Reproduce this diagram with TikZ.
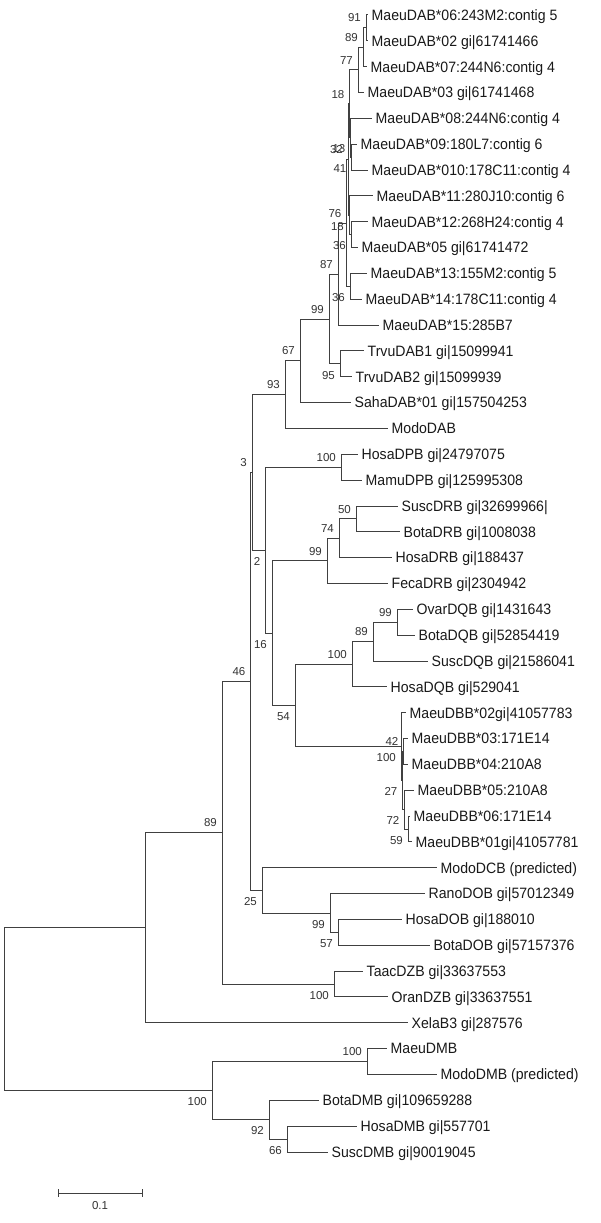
\documentclass[tikz,border=0pt]{standalone}
\usepackage{fontspec}
\setmainfont{Liberation Sans}
\newfontfamily\leaffont{Liberation Sans}[FakeStretch=0.94]
\tikzset{
  br/.style={draw=black!75, line width=1pt},
  leaf/.style={anchor=west, inner xsep=3.5pt, inner ysep=0pt, text height=10.7pt, text depth=0pt,
    font=\leaffont\fontsize{15}{15}\selectfont, text=black!90},
  lbl/.style={anchor=east, inner sep=0pt, text height=8.2pt, text depth=0pt,
    font=\fontsize{11.5}{11.5}\selectfont, text=black!80},
}
\newcommand\bsabove[3]{\node[lbl] (#1) at ([shift={(-5,-10)}]#2) {#3};}
\newcommand\bsbelow[3]{\node[lbl] (#1) at ([shift={(-5,11)}]#2) {#3};}
\begin{document}
\begin{tikzpicture}[x=1pt,y=-1pt]
\useasboundingbox[fill=white] (0,0) rectangle (600,1223);
% leaves
\node[leaf] (l1) at (368,15.0) {MaeuDAB*06:243M2:contig 5};
\node[leaf] (l2) at (368,40.8) {MaeuDAB*02 gi|61741466};
\node[leaf] (l3) at (367,66.7) {MaeuDAB*07:244N6:contig 4};
\node[leaf] (l4) at (364,92.5) {MaeuDAB*03 gi|61741468};
\node[leaf] (l5) at (372,118.4) {MaeuDAB*08:244N6:contig 4};
\node[leaf] (l6) at (357,144.2) {MaeuDAB*09:180L7:contig 6};
\node[leaf] (l7) at (368,170.0) {MaeuDAB*010:178C11:contig 4};
\node[leaf] (l8) at (373,195.9) {MaeuDAB*11:280J10:contig 6};
\node[leaf] (l9) at (368,221.7) {MaeuDAB*12:268H24:contig 4};
\node[leaf] (l10) at (358,247.6) {MaeuDAB*05 gi|61741472};
\node[leaf] (l11) at (367,273.4) {MaeuDAB*13:155M2:contig 5};
\node[leaf] (l12) at (362,299.2) {MaeuDAB*14:178C11:contig 4};
\node[leaf] (l13) at (379,325.1) {MaeuDAB*15:285B7};
\node[leaf] (l14) at (364,350.9) {TrvuDAB1 gi|15099941};
\node[leaf] (l15) at (352,376.8) {TrvuDAB2 gi|15099939};
\node[leaf] (l16) at (351,402.6) {SahaDAB*01 gi|157504253};
\node[leaf] (l17) at (388,428.4) {ModoDAB};
\node[leaf] (l18) at (358,454.3) {HosaDPB gi|24797075};
\node[leaf] (l19) at (362,480.1) {MamuDPB gi|125995308};
\node[leaf] (l20) at (398,506.0) {SuscDRB gi|32699966|};
\node[leaf] (l21) at (400,531.8) {BotaDRB gi|1008038};
\node[leaf] (l22) at (392,557.6) {HosaDRB gi|188437};
\node[leaf] (l23) at (388,583.5) {FecaDRB gi|2304942};
\node[leaf] (l24) at (413,609.3) {OvarDQB gi|1431643};
\node[leaf] (l25) at (415,635.2) {BotaDQB gi|52854419};
\node[leaf] (l26) at (428,661.0) {SuscDQB gi|21586041};
\node[leaf] (l27) at (387,686.8) {HosaDQB gi|529041};
\node[leaf] (l28) at (406,712.7) {MaeuDBB*02gi|41057783};
\node[leaf] (l29) at (408,738.5) {MaeuDBB*03:171E14};
\node[leaf] (l30) at (408,764.4) {MaeuDBB*04:210A8};
\node[leaf] (l31) at (414,790.2) {MaeuDBB*05:210A8};
\node[leaf] (l32) at (410,816.0) {MaeuDBB*06:171E14};
\node[leaf] (l33) at (412,841.9) {MaeuDBB*01gi|41057781};
\node[leaf] (l34) at (437,867.7) {ModoDCB (predicted)};
\node[leaf] (l35) at (425,893.6) {RanoDOB gi|57012349};
\node[leaf] (l36) at (402,919.4) {HosaDOB gi|188010};
\node[leaf] (l37) at (430,945.2) {BotaDOB gi|57157376};
\node[leaf] (l38) at (363,971.1) {TaacDZB gi|33637553};
\node[leaf] (l39) at (388,996.9) {OranDZB gi|33637551};
\node[leaf] (l40) at (408,1022.8) {XelaB3 gi|287576};
\node[leaf] (l41) at (387,1048.6) {MaeuDMB};
\node[leaf] (l42) at (437,1074.4) {ModoDMB (predicted)};
\node[leaf] (l43) at (319,1100.3) {BotaDMB gi|109659288};
\node[leaf] (l44) at (357,1126.1) {HosaDMB gi|557701};
\node[leaf] (l45) at (328,1152.0) {SuscDMB gi|90019045};
% internal nodes
\coordinate (n91) at (366,27.9);
\coordinate (n89a) at (363,47.3);
\coordinate (n77) at (358,69.9);
\coordinate (n41) at (351.5,157.1);
\coordinate (n13) at (350.5,137.8);
\coordinate (n18a) at (349.5,103.9);
\coordinate (n36a) at (351,234.7);
\coordinate (n18b) at (349,215.3);
\coordinate (n32) at (348,159.6);
\coordinate (n36b) at (350,286.3);
\coordinate (n76) at (346.5,223);
\coordinate (n87) at (338,274);
\coordinate (n95) at (340,363.9);
\coordinate (n99a) at (329,319);
\coordinate (n67) at (300,360.8);
\coordinate (n93) at (285,394.6);
\coordinate (n100a) at (341,467.2);
\coordinate (n50) at (356,518.9);
\coordinate (n74) at (339,538.3);
\coordinate (n99b) at (327,560.9);
\coordinate (n99c) at (397,622.3);
\coordinate (n89b) at (373,641.6);
\coordinate (n100b) at (352,664.2);
\coordinate (n59) at (408,829);
\coordinate (n72) at (404.5,809.5);
\coordinate (n42) at (403.5,751.5);
\coordinate (n27) at (402.5,780.5);
\coordinate (n100c) at (401,746.6);
\coordinate (n54) at (295,705.4);
\coordinate (n16) at (272,633.2);
\coordinate (n2) at (265.5,550.2);
\coordinate (n3) at (252,472.4);
\coordinate (n57) at (338,932.3);
\coordinate (n99d) at (330,913);
\coordinate (n25) at (262,890.3);
\coordinate (n46) at (250.5,681.4);
\coordinate (n100e) at (334,984);
\coordinate (n89c) at (222,832.7);
\coordinate (nX) at (145,927.8);
\coordinate (n100f) at (367,1061.5);
\coordinate (n66) at (287,1139);
\coordinate (n92) at (269,1119.7);
\coordinate (n100g) at (212,1090.6);
\coordinate (root) at (4.5,1009.2);
% branches
\draw[br] (n91) |- (l1.west);  \draw[br] (n91) |- (l2.west);
\draw[br] (n89a) |- (n91);     \draw[br] (n89a) |- (l3.west);
\draw[br] (n77) |- (n89a);     \draw[br] (n77) |- (l4.west);
\draw[br] (n41) |- (l6.west);  \draw[br] (n41) |- (l7.west);
\draw[br] (n13) |- (l5.west);  \draw[br] (n13) |- (n41);
\draw[br] (n18a) |- (n77);     \draw[br] (n18a) |- (n13);
\draw[br] (n36a) |- (l9.west); \draw[br] (n36a) |- (l10.west);
\draw[br] (n18b) |- (l8.west); \draw[br] (n18b) |- (n36a);
\draw[br] (n32) |- (n18a);     \draw[br] (n32) |- (n18b);
\draw[br] (n36b) |- (l11.west); \draw[br] (n36b) |- (l12.west);
\draw[br] (n76) |- (n32);      \draw[br] (n76) |- (n36b);
\draw[br] (n87) |- (n76);      \draw[br] (n87) |- (l13.west);
\draw[br] (n95) |- (l14.west); \draw[br] (n95) |- (l15.west);
\draw[br] (n99a) |- (n87);     \draw[br] (n99a) |- (n95);
\draw[br] (n67) |- (n99a);     \draw[br] (n67) |- (l16.west);
\draw[br] (n93) |- (n67);      \draw[br] (n93) |- (l17.west);
\draw[br] (n100a) |- (l18.west); \draw[br] (n100a) |- (l19.west);
\draw[br] (n50) |- (l20.west); \draw[br] (n50) |- (l21.west);
\draw[br] (n74) |- (n50);      \draw[br] (n74) |- (l22.west);
\draw[br] (n99b) |- (n74);     \draw[br] (n99b) |- (l23.west);
\draw[br] (n99c) |- (l24.west); \draw[br] (n99c) |- (l25.west);
\draw[br] (n89b) |- (n99c);    \draw[br] (n89b) |- (l26.west);
\draw[br] (n100b) |- (n89b);   \draw[br] (n100b) |- (l27.west);
\draw[br] (n59) |- (l32.west); \draw[br] (n59) |- (l33.west);
\draw[br] (n72) |- (l31.west); \draw[br] (n72) |- (n59);
\draw[br] (n42) |- (l29.west); \draw[br] (n42) |- (l30.west);
\draw[br] (n27) |- (n42);      \draw[br] (n27) |- (n72);
\draw[br] (n100c) |- (l28.west); \draw[br] (n100c) |- (n27);
\draw[br] (n54) |- (n100b);    \draw[br] (n54) |- (n100c);
\draw[br] (n16) |- (n99b);     \draw[br] (n16) |- (n54);
\draw[br] (n2) |- (n100a);     \draw[br] (n2) |- (n16);
\draw[br] (n3) |- (n93);       \draw[br] (n3) |- (n2);
\draw[br] (n57) |- (l36.west); \draw[br] (n57) |- (l37.west);
\draw[br] (n99d) |- (l35.west); \draw[br] (n99d) |- (n57);
\draw[br] (n25) |- (l34.west); \draw[br] (n25) |- (n99d);
\draw[br] (n46) |- (n3);       \draw[br] (n46) |- (n25);
\draw[br] (n100e) |- (l38.west); \draw[br] (n100e) |- (l39.west);
\draw[br] (n89c) |- (n46);     \draw[br] (n89c) |- (n100e);
\draw[br] (nX) |- (n89c);      \draw[br] (nX) |- (l40.west);
\draw[br] (n100f) |- (l41.west); \draw[br] (n100f) |- (l42.west);
\draw[br] (n66) |- (l44.west); \draw[br] (n66) |- (l45.west);
\draw[br] (n92) |- (l43.west); \draw[br] (n92) |- (n66);
\draw[br] (n100g) |- (n100f);  \draw[br] (n100g) |- (n92);
\draw[br] (root) |- (nX);      \draw[br] (root) |- (n100g);
% bootstrap values
\bsabove{b1}{n91}{91}
\bsabove{b2}{n89a}{89}
\bsabove{b3}{n77}{77}
\bsabove{b4}{n18a}{18}
\bsbelow{b5}{n13}{13}
\bsbelow{b6}{n41}{41}
\bsabove{b7}{n32}{32}
\bsbelow{b8}{n18b}{18}
\bsbelow{b9}{n36a}{36}
\bsabove{b10}{n76}{76}
\bsbelow{b11}{n36b}{36}
\bsabove{b12}{n87}{87}
\bsabove{b13}{n99a}{99}
\bsbelow{b14}{n95}{95}
\bsabove{b15}{n67}{67}
\bsabove{b16}{n93}{93}
\bsabove{b17}{n100a}{100}
\bsabove{b18}{n3}{3}
\bsbelow{b19}{n2}{2}
\bsabove{b20}{n50}{50}
\bsabove{b21}{n74}{74}
\bsabove{b22}{n99b}{99}
\bsbelow{b23}{n16}{16}
\bsabove{b24}{n99c}{99}
\bsabove{b25}{n89b}{89}
\bsabove{b26}{n100b}{100}
\bsbelow{b27}{n54}{54}
\bsabove{b28}{n42}{42}
\bsbelow{b29}{n100c}{100}
\bsbelow{b30}{n27}{27}
\bsbelow{b31}{n72}{72}
\bsbelow{b32}{n59}{59}
\bsabove{b33}{n46}{46}
\bsabove{b34}{n89c}{89}
\bsbelow{b35}{n25}{25}
\bsbelow{b36}{n99d}{99}
\bsbelow{b37}{n57}{57}
\bsbelow{b38}{n100e}{100}
\bsabove{b39}{n100f}{100}
\bsbelow{b40}{n100g}{100}
\bsbelow{b41}{n92}{92}
\bsbelow{b42}{n66}{66}
% scale bar
\coordinate (sb1) at (58,1193);
\coordinate (sb2) at (142,1193);
\draw[br] (sb1) -- (sb2);
\draw[br] ([shift={(0,-4)}]sb1) -- ([shift={(0,4)}]sb1);
\draw[br] ([shift={(0,-4)}]sb2) -- ([shift={(0,4)}]sb2);
\node[inner sep=0pt, font=\fontsize{11.5}{11.5}\selectfont, text=black!80] (sbl) at (100,1206) {0.1};
\end{tikzpicture}
\end{document}
